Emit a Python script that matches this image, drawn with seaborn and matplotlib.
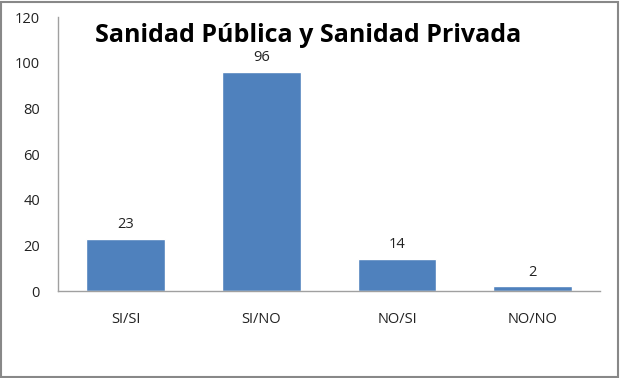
import matplotlib
matplotlib.use("Agg")
import matplotlib.pyplot as plt
import seaborn as sns
from matplotlib.patches import Rectangle

categorias = ["SI/SI", "SI/NO", "NO/SI", "NO/NO"]
valores = [23, 96, 14, 2]
yticks = [0, 20, 40, 60, 80, 100, 120]

sns.set_style("white")
plt.rcParams["font.family"] = ["Open Sans", "DejaVu Sans"]

fig = plt.figure(figsize=(6.2, 3.78), dpi=100)
ax = fig.add_axes([0.0935, 0.23, 0.875, 0.725])

sns.barplot(x=categorias, y=valores, color="#4F81BD", saturation=1, width=0.58, ax=ax)

for i, v in enumerate(valores):
    ax.text(i, v + 3, str(v), ha="center", va="bottom", fontsize=10.5, color="#222222")

ax.set_ylim(0, 120)
ax.set_yticks(yticks)
ax.set_xlim(-0.5, 3.5)
ax.tick_params(axis="both", length=0, labelsize=10.5, colors="#222222")
ax.tick_params(axis="x", pad=15)
ax.tick_params(axis="y", pad=13)

for s in ["top", "right"]:
    ax.spines[s].set_visible(False)
for s in ["left", "bottom"]:
    ax.spines[s].set_color("#A0A0A0")
    ax.spines[s].set_linewidth(1)

fig.text(0.497, 0.905, "Sanidad Pública y Sanidad Privada", ha="center", va="center",
         fontsize=18, fontweight="bold", color="black")

fig.patches.append(Rectangle((0.002, 0.003), 0.995, 0.993, transform=fig.transFigure,
                             fill=False, edgecolor="#888888", linewidth=1.5))

fig.savefig("out.png", dpi=100)
